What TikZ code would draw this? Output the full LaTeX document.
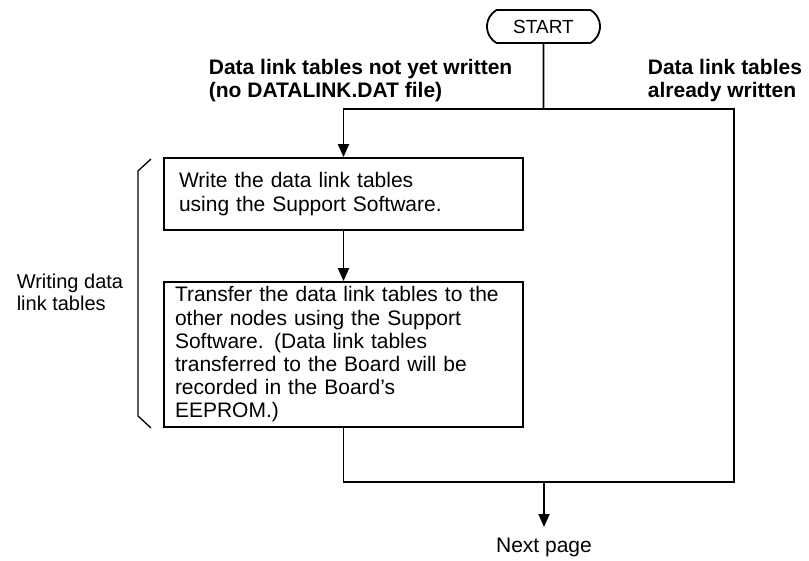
\documentclass[tikz,border=0pt]{standalone}
\usepackage{fontspec}
\setmainfont{Liberation Sans}
\usetikzlibrary{arrows.meta,shapes.misc}

\begin{document}
\begin{tikzpicture}[x=1pt,y=-1pt,line width=1.8pt,
	every node/.style={inner sep=0pt,font=\fontsize{21}{23.2}\selectfont},
	stepbox/.style={draw,line width=1.8pt,minimum width=359pt,align=left},
	label/.style={align=left,font=\fontsize{21}{23.2}\selectfont\bfseries},
	flow/.style={-{Triangle[length=13pt,width=11pt]}}]
		
		\useasboundingbox (0,0) rectangle (809,561);
		
		% Start + branch labels
		\node[draw,rounded rectangle,rounded rectangle arc length=120,minimum width=113pt,minimum height=33pt,font=\fontsize{19}{21}\selectfont] (start) at (543.5,26.5) {START};
		\node[label,anchor=north west] (notyet) at (208,58.5) {Data link tables not yet written\\(no DATALINK.DAT file)};
		\node[label,anchor=north west] (already) at (647,58.5) {Data link tables\\already written};
		
		% Steps
		\node[stepbox,text width=329pt,inner xsep=15pt,minimum height=72pt] (write) at (343.5,194) {Write the data link tables\\using the Support Software.};
		\node[stepbox,text width=337pt,inner xsep=11pt,minimum height=145pt] (transfer) at (343.5,354.5) {Transfer the data link tables to the\\other nodes using the Support\\Software. (Data link tables\\transferred to the Board will be\\recorded in the Board’s\\EEPROM.)};
		\node[anchor=north,outer ysep=11pt] (next) at (544,527) {Next page};
		
		% Brace + side label
		\draw[line width=1.3pt] (151,159) -- (138,171) -- (138,416) -- (151,428);
		\node[align=left,anchor=north east,font=\fontsize{20}{22}\selectfont] (writing) at (124,273) {Writing data\\link tables};
		
		% Connectors
		\coordinate (fork) at (start.south |- 0,109);
		\coordinate (bypass) at (734,482);
		\coordinate (merge) at (next.north |- bypass);
		\draw (start) -- (fork);
		\draw[flow] (fork) -| (write.north);
		\draw (fork) -| (bypass) -- (merge);
		\draw[flow] (write) -- (transfer);
		\draw (transfer.south) |- (merge);
		\draw[flow] (merge) -- (next);
		
	\end{tikzpicture}
\end{document}
